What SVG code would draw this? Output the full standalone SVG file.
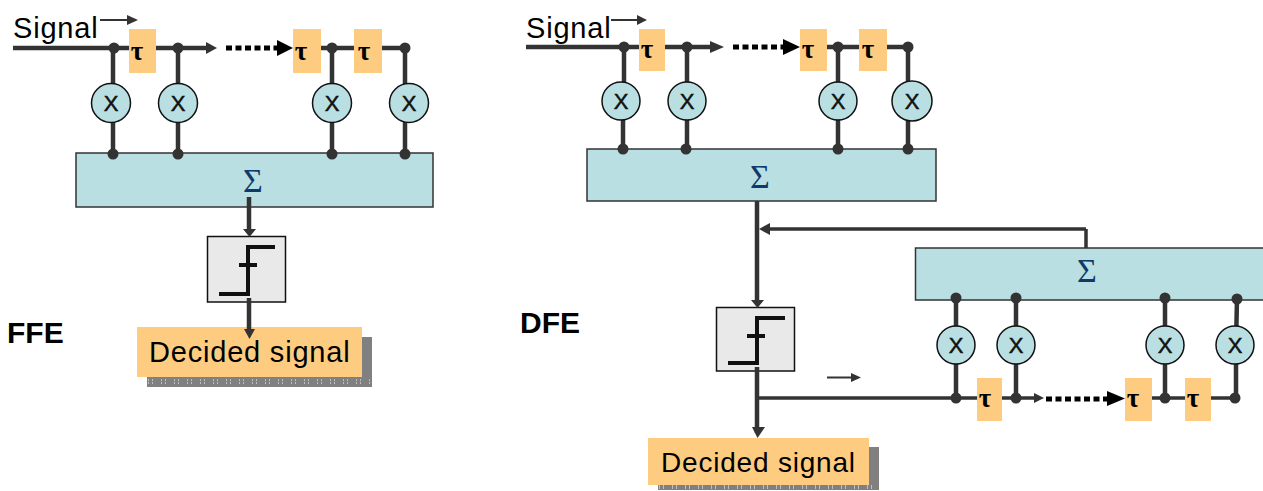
<svg xmlns="http://www.w3.org/2000/svg" width="1263" height="491" viewBox="0 0 1263 491">
<style>
.w{fill:none;stroke:#333;stroke-width:4.5}
.f{fill:none;stroke:#333;stroke-width:3.500}
.t{fill:none;stroke:#333;stroke-width:2}
.d{fill:none;stroke:#000;stroke-width:5;stroke-dasharray:6 3.5}
.h{fill:#333}.k{fill:#000}
.dot{fill:#333}
.o{fill:#fdcc80}
.c{fill:#b9dfe2;stroke:#111;stroke-width:1.5}
.b{fill:#b9dfe2;stroke:#333;stroke-width:1.5}
.g{fill:#e9e9e9;stroke:#111;stroke-width:1.5}
.s{fill:none;stroke:#111;stroke-width:4}
.sh{fill:#808080}
.dith{fill:none;stroke:#fff;stroke-width:1;stroke-dasharray:1 3 1 8}
text{font-family:"Liberation Sans",Arial,sans-serif;fill:#000}
.tx{font-size:29px;letter-spacing:.8px}
.tx2{font-size:28px;letter-spacing:.8px}
.lb{font-size:30px;font-weight:bold}
.x{font-size:22px;text-anchor:middle;fill:#111;stroke:#111;stroke-width:.5}
.tau{font-family:"Liberation Serif","Times New Roman",serif;font-size:27px;font-weight:bold;text-anchor:middle}
.sig{font-family:"Liberation Serif","Times New Roman",serif;font-size:34px;text-anchor:middle;fill:#0f3a6b}
</style>
<g id="ffe-shapes">
<g id="ffe-sum"><rect class="b" x="76" y="153" width="357" height="54"/><text class="sig" x="253" y="192">Σ</text></g>
<g id="ffe-delay1"><rect class="o" x="129" y="29" width="27" height="44"/></g>
<g id="ffe-delay2"><rect class="o" x="293" y="29" width="28" height="44"/></g>
<g id="ffe-delay3"><rect class="o" x="354" y="29" width="28" height="44"/></g>
<g id="ffe-slicer"><rect class="g" x="207.500" y="236.500" width="78" height="65.500"/><path class="s" d="M219 294H248V247H275M239 265H257"/></g>
<g id="ffe-out"><rect class="sh" x="147" y="337" width="225" height="50"/><path class="dith" d="M148 383H371M148 380H371"/><rect class="o" x="137" y="327" width="225" height="50"/></g>
</g>
<g id="dfe-shapes">
<g id="dfe-sum1"><rect class="b" x="587" y="149" width="349" height="52"/><text class="sig" x="760" y="188">Σ</text></g>
<g id="dfe-sum2"><rect class="b" x="915.500" y="248" width="350" height="52"/><text class="sig" x="1087" y="282">Σ</text></g>
<g id="dfe-delay1"><rect class="o" x="639" y="29" width="26" height="42"/></g>
<g id="dfe-delay2"><rect class="o" x="800" y="29" width="27" height="42"/></g>
<g id="dfe-delay3"><rect class="o" x="859" y="29" width="28" height="42"/></g>
<g id="dfe-delay4"><rect class="o" x="977" y="378" width="25" height="43"/></g>
<g id="dfe-delay5"><rect class="o" x="1125" y="378" width="27" height="43"/></g>
<g id="dfe-delay6"><rect class="o" x="1185" y="378" width="26" height="43"/></g>
<g id="dfe-slicer"><rect class="g" x="716.500" y="307.500" width="78" height="63.500"/><path class="s" d="M728 363H757V318H785M747 336H765"/></g>
<g id="dfe-out"><rect class="sh" x="658" y="447" width="221" height="43"/><path class="dith" d="M659 486H878M659 488H878"/><rect class="o" x="648" y="438" width="221" height="47"/></g>
</g>
<g id="connectors">
<path class="w" d="M13 48H129M156 48H207M321 48H354M382 48H405"/>
<path class="w" d="M113 48V153M178 48V153M332 48V153M405 48V153"/>
<path class="t" d="M100 20H128"/><path class="h" d="M127 15L138 20L127 25Z"/>
<path class="h" d="M206 42L217 48L206 54Z"/>
<path class="d" d="M226 48H280"/><path class="k" d="M277 40L293 48L277 56Z"/>
<path class="w" d="M249 197V232M249 298V332"/>
<path class="h" d="M243 229H256L249.500 237Z"/><path class="h" d="M244 329H255L249.500 339Z"/>
<path class="w" d="M526 47H639M665 47H714"/>
<path class="w" d="M827 47H859M887 47H908"/>
<path class="w" d="M624 47V100M623 100V149M687 47V149M838 47V149M908 47V149"/>
<path class="t" d="M611 20H638"/><path class="h" d="M637 15L647 20L637 25Z"/>
<path class="h" d="M710 41L724 47L710 53Z"/>
<path class="d" d="M733 47H786"/><path class="k" d="M783 39L800 47L783 55Z"/>
<path class="w" d="M757 201V304M757 367V433"/>
<path class="h" d="M751 300H764L757.500 308Z"/><path class="h" d="M752 427H765L757.500 438Z"/>
<path class="f" d="M1086 229H768M1086 229V248"/><path class="h" d="M770 223V235L759 229Z"/>
<path class="f" d="M757 398H977M1002 398H1040M1152 398H1185M1211 398H1237"/>
<path class="w" d="M956 298V398M1016 298V398M1165 298V398M1236 345V398M1237 298L1236 345"/>
<path class="h" d="M1034 393L1044 398L1034 403Z"/>
<path class="d" d="M1046 399H1110"/><path class="k" d="M1107 391L1125 398.500L1107 406Z"/>
<path class="t" d="M827 377.500H853"/><path class="h" d="M851 373L861 377.500L851 382Z"/>
<g class="dot">
<circle cx="114" cy="48" r="5.500"/><circle cx="178" cy="48" r="5.500"/><circle cx="332" cy="48" r="5.500"/><circle cx="405" cy="48" r="5.500"/>
<circle cx="113" cy="154" r="5.500"/><circle cx="178" cy="154" r="5.500"/><circle cx="332" cy="154" r="5.500"/><circle cx="405" cy="154" r="5.500"/>
<circle cx="624" cy="47" r="5.500"/><circle cx="687" cy="47" r="5.500"/><circle cx="838" cy="47" r="5.500"/><circle cx="908" cy="47" r="5.500"/>
<circle cx="623" cy="149" r="5.500"/><circle cx="686" cy="149" r="5.500"/><circle cx="838" cy="149" r="5.500"/><circle cx="908" cy="149" r="5.500"/>
<circle cx="956" cy="298" r="5.500"/><circle cx="1016" cy="298" r="5.500"/><circle cx="1165" cy="298" r="5.500"/><circle cx="1237" cy="299" r="5.500"/>
<circle cx="956" cy="398" r="5.500"/><circle cx="1016" cy="398" r="5.500"/><circle cx="1165" cy="398" r="5.500"/><circle cx="1235" cy="398" r="5.500"/>
</g>
</g>
<g id="ffe-mult1"><circle class="c" cx="111" cy="103" r="19.500"/><text class="x" x="111" y="111">X</text></g>
<g id="ffe-mult2"><circle class="c" cx="178" cy="103" r="19.500"/><text class="x" x="178" y="111">X</text></g>
<g id="ffe-mult3"><circle class="c" cx="332" cy="103" r="19.500"/><text class="x" x="332" y="111">X</text></g>
<g id="ffe-mult4"><circle class="c" cx="409" cy="103" r="19.500"/><text class="x" x="409" y="111">X</text></g>
<g id="dfe-mult1"><circle class="c" cx="621" cy="101" r="19"/><text class="x" x="621" y="109">X</text></g>
<g id="dfe-mult2"><circle class="c" cx="687" cy="101" r="19"/><text class="x" x="687" y="109">X</text></g>
<g id="dfe-mult3"><circle class="c" cx="838" cy="101" r="19"/><text class="x" x="838" y="109">X</text></g>
<g id="dfe-mult4"><circle class="c" cx="912" cy="101" r="20"/><text class="x" x="912" y="109">X</text></g>
<g id="dfe-mult5"><circle class="c" cx="956" cy="345" r="19"/><text class="x" x="956" y="353">X</text></g>
<g id="dfe-mult6"><circle class="c" cx="1016" cy="345" r="19"/><text class="x" x="1016" y="353">X</text></g>
<g id="dfe-mult7"><circle class="c" cx="1165" cy="345" r="19"/><text class="x" x="1165" y="353">X</text></g>
<g id="dfe-mult8"><circle class="c" cx="1235" cy="345" r="19"/><text class="x" x="1235" y="353">X</text></g>
<g id="labels">
<text class="tx" x="13" y="38">Signal</text>
<text class="tx" x="526" y="38">Signal</text>
<text class="tau" x="137" y="60">τ</text><text class="tau" x="301" y="60">τ</text><text class="tau" x="364" y="60">τ</text>
<text class="tau" x="647" y="58">τ</text><text class="tau" x="808" y="58">τ</text><text class="tau" x="868" y="58">τ</text>
<text class="tau" x="985" y="407">τ</text><text class="tau" x="1133" y="407">τ</text><text class="tau" x="1193" y="407">τ</text>
<text class="tx" x="149" y="362">Decided signal</text>
<text class="tx2" x="661" y="472">Decided signal</text>
<text class="lb" x="7" y="343">FFE</text>
<text class="lb" x="520" y="333">DFE</text>
</g>
</svg>
